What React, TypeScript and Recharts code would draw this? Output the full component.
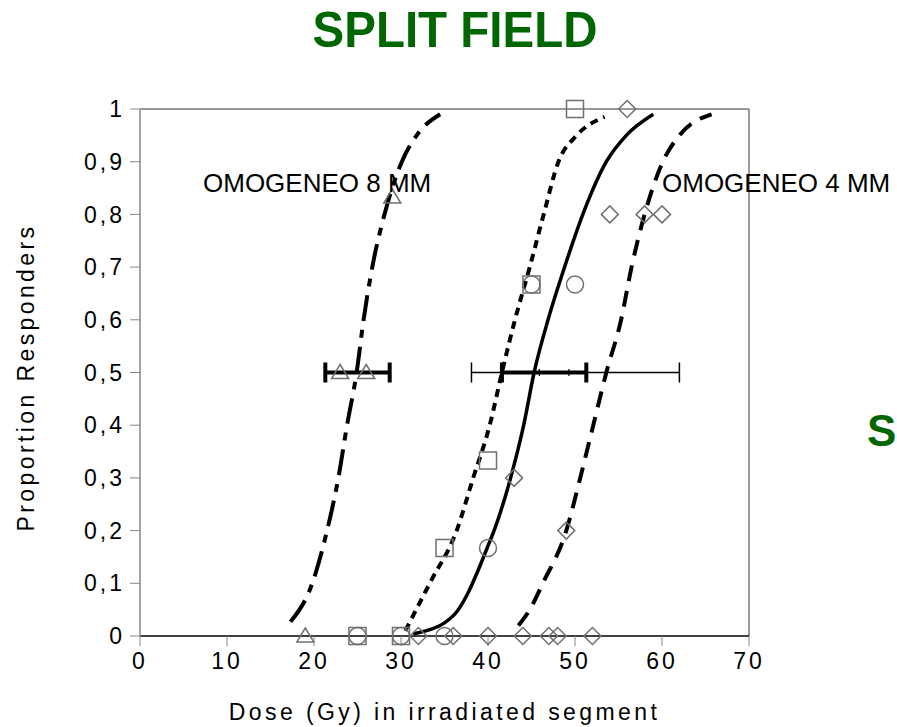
import React from "react";
import {
  ComposedChart,
  Line,
  Scatter,
  XAxis,
  YAxis,
  ErrorBar,
  ReferenceLine,
  Label,
} from "recharts";

// Dose-response curves (x = Gy, y = proportion)
const curve8mm = [
  { x: 17.3, y: 0.027 },
  { x: 19.8, y: 0.1 },
  { x: 21.5, y: 0.2 },
  { x: 22.8, y: 0.3 },
  { x: 23.8, y: 0.4 },
  { x: 24.9, y: 0.5 },
  { x: 25.7, y: 0.6 },
  { x: 26.7, y: 0.7 },
  { x: 28.1, y: 0.8 },
  { x: 30.1, y: 0.9 },
  { x: 31.8, y: 0.95 },
  { x: 34.5, y: 0.99 },
];

const curveDotted = [
  { x: 30.5, y: 0.01 },
  { x: 33.3, y: 0.1 },
  { x: 36.4, y: 0.2 },
  { x: 38.3, y: 0.3 },
  { x: 40.2, y: 0.4 },
  { x: 41.6, y: 0.5 },
  { x: 43.1, y: 0.6 },
  { x: 44.8, y: 0.7 },
  { x: 46.4, y: 0.8 },
  { x: 48.1, y: 0.9 },
  { x: 50.2, y: 0.95 },
  { x: 53.4, y: 0.985 },
];

const curveSolid = [
  { x: 31.4, y: 0.004 },
  { x: 33.3, y: 0.012 },
  { x: 35.0, y: 0.025 },
  { x: 36.5, y: 0.048 },
  { x: 37.8, y: 0.085 },
  { x: 39.0, y: 0.13 },
  { x: 39.9, y: 0.167 },
  { x: 40.7, y: 0.2 },
  { x: 42.6, y: 0.3 },
  { x: 44.1, y: 0.4 },
  { x: 45.3, y: 0.5 },
  { x: 46.9, y: 0.6 },
  { x: 48.8, y: 0.7 },
  { x: 50.9, y: 0.8 },
  { x: 53.6, y: 0.9 },
  { x: 55.9, y: 0.95 },
  { x: 59.0, y: 0.99 },
];

const curve4mm = [
  { x: 43.5, y: 0.02 },
  { x: 44.8, y: 0.05 },
  { x: 46.3, y: 0.1 },
  { x: 49.0, y: 0.2 },
  { x: 50.6, y: 0.3 },
  { x: 52.1, y: 0.4 },
  { x: 53.6, y: 0.5 },
  { x: 55.3, y: 0.6 },
  { x: 56.5, y: 0.7 },
  { x: 58.0, y: 0.8 },
  { x: 60.1, y: 0.9 },
  { x: 62.0, y: 0.95 },
  { x: 65.7, y: 0.99 },
];

// observed points
const triangles = [
  { x: 19, y: 0 },
  { x: 23, y: 0.5 },
  { x: 26, y: 0.5 },
  { x: 29, y: 0.833 },
];
const squares = [
  { x: 25, y: 0 },
  { x: 30, y: 0 },
  { x: 35, y: 0.167 },
  { x: 40, y: 0.333 },
  { x: 45, y: 0.667 },
  { x: 50, y: 1 },
];
const circles = [
  { x: 25, y: 0 },
  { x: 30, y: 0 },
  { x: 35, y: 0 },
  { x: 40, y: 0.167 },
  { x: 45, y: 0.667 },
  { x: 50, y: 0.667 },
];
const diamonds = [
  { x: 32, y: 0 },
  { x: 36, y: 0 },
  { x: 40, y: 0 },
  { x: 44, y: 0 },
  { x: 47, y: 0 },
  { x: 48, y: 0 },
  { x: 52, y: 0 },
  { x: 43, y: 0.3 },
  { x: 49, y: 0.2 },
  { x: 54, y: 0.8 },
  { x: 58, y: 0.8 },
  { x: 60, y: 0.8 },
  { x: 56, y: 1 },
];

// ED50 error bars at y = 0.5, err = [below, above]
const bar8mm = [{ x: 25, y: 0.5, err: [3.7, 3.7] }];
const barThin = [{ x: 45.9, y: 0.5, err: [7.8, 16.1] }];
const barThick = [{ x: 46.45, y: 0.5, err: [4.85, 4.85] }];
const barTicks = [
  { x: 45.9, y: 0.5 },
  { x: 49.3, y: 0.5 },
];

const xTicks = [0, 10, 20, 30, 40, 50, 60, 70];
const yTicks = [0, 0.1, 0.2, 0.3, 0.4, 0.5, 0.6, 0.7, 0.8, 0.9, 1];

const FONT = '"Liberation Sans", Arial, sans-serif';
const GREEN = "#006600";
const MARK = "#707070";

const TICK = { fontSize: 23, letterSpacing: 3, fill: "#000", fontFamily: FONT };

function SquareMark(p: any) {
  return <rect x={p.cx - 8.5} y={p.cy - 8.5} width={17} height={17} fill="none" stroke={MARK} strokeWidth={1.5} />;
}
function CircleMark(p: any) {
  return <circle cx={p.cx} cy={p.cy} r={8.5} fill="none" stroke={MARK} strokeWidth={1.5} />;
}
function DiamondMark(p: any) {
  const { cx, cy } = p;
  return (
    <path
      d={`M${cx},${cy - 8.5}L${cx + 8.5},${cy}L${cx},${cy + 8.5}L${cx - 8.5},${cy}Z`}
      fill="none"
      stroke={MARK}
      strokeWidth={1.5}
    />
  );
}
function TriangleMark(p: any) {
  const { cx, cy } = p;
  return (
    <path
      d={`M${cx},${cy - 8}L${cx + 8.5},${cy + 6}L${cx - 8.5},${cy + 6}Z`}
      fill="none"
      stroke={MARK}
      strokeWidth={1.5}
    />
  );
}
function NoMark() {
  return <g />;
}
function TickMark(p: any) {
  return <line x1={p.cx} x2={p.cx} y1={p.cy - 3.5} y2={p.cy + 3.5} stroke="#000" strokeWidth={1.2} />;
}

export default function App() {
  return (
    <div style={{ position: "absolute", left: 0, top: 0, width: 897, height: 727, background: "#fff", fontFamily: FONT }}>
      <svg width={897} height={727} style={{ position: "absolute", left: 0, top: 0 }}>
        <text
          x={0}
          y={0}
          transform="translate(455,47) scale(0.95,1)"
          textAnchor="middle"
          fontSize={50}
          fontWeight="bold"
          fill={GREEN}
          fontFamily={FONT}
        >
          SPLIT FIELD
        </text>
        <text x={867} y={446} fontSize={44} fontWeight="bold" fill={GREEN} fontFamily={FONT}>
          S
        </text>
      </svg>
      <div style={{ position: "absolute", left: 0, top: 0 }}>
        <ComposedChart width={897} height={727} margin={{ top: 109, right: 148, bottom: 0, left: 0 }}>
          <XAxis
            type="number"
            dataKey="x"
            domain={[0, 70]}
            ticks={xTicks}
            height={91}
            axisLine={{ stroke: "#000", strokeWidth: 1.5 }}
            tickLine={{ stroke: "#888" }}
            tickSize={10}
            tickMargin={7}
            tick={TICK}
            allowDataOverflow
          >
            <Label
              content={({ viewBox }: any) => (
                <text
                  x={viewBox.x + viewBox.width / 2}
                  y={viewBox.y + 84}
                  textAnchor="middle"
                  fontSize={23}
                  letterSpacing={3.4}
                  fontFamily={FONT}
                  fill="#000"
                >
                  Dose (Gy) in irradiated segment
                </text>
              )}
            />
          </XAxis>
          <YAxis
            type="number"
            dataKey="y"
            domain={[0, 1]}
            ticks={yTicks}
            width={140}
            axisLine={{ stroke: "#888", strokeWidth: 1.5 }}
            tickLine={{ stroke: "#888" }}
            tickSize={10}
            tickMargin={5}
            tick={TICK}
            tickFormatter={(v: number) => String(Math.round(v * 10) / 10).replace(".", ",")}
          >
            <Label
              content={({ viewBox }: any) => {
                const cy = viewBox.y + viewBox.height / 2 + 5;
                return (
                  <text
                    x={34}
                    y={cy}
                    transform={`rotate(-90, 34, ${cy})`}
                    textAnchor="middle"
                    fontSize={23}
                    letterSpacing={3.4}
                    fontFamily={FONT}
                    fill="#000"
                  >
                    Proportion Responders
                  </text>
                );
              }}
            />
          </YAxis>

          <ReferenceLine y={1} stroke="#777" strokeWidth={1.5} />
          <ReferenceLine x={70} stroke="#777" strokeWidth={1.5} />

          <Scatter data={triangles} dataKey="y" shape={TriangleMark} isAnimationActive={false} />
          <Scatter data={squares} dataKey="y" shape={SquareMark} isAnimationActive={false} />
          <Scatter data={circles} dataKey="y" shape={CircleMark} isAnimationActive={false} />
          <Scatter data={diamonds} dataKey="y" shape={DiamondMark} isAnimationActive={false} />

          <Scatter data={barThin} dataKey="y" shape={NoMark} isAnimationActive={false}>
            <ErrorBar dataKey="err" direction="x" width={10} stroke="#000" strokeWidth={1.5} />
          </Scatter>
          <Scatter data={barTicks} dataKey="y" shape={TickMark} isAnimationActive={false} />
          <Scatter data={barThick} dataKey="y" shape={NoMark} isAnimationActive={false}>
            <ErrorBar dataKey="err" direction="x" width={10} stroke="#000" strokeWidth={4} />
          </Scatter>
          <Scatter data={bar8mm} dataKey="y" shape={NoMark} isAnimationActive={false}>
            <ErrorBar dataKey="err" direction="x" width={10} stroke="#000" strokeWidth={4} />
          </Scatter>

          <Line data={curve8mm} dataKey="y" type="monotoneX" stroke="#000" strokeWidth={4} strokeDasharray="26 9 8 9" dot={false} isAnimationActive={false} />
          <Line data={curveDotted} dataKey="y" type="monotoneX" stroke="#000" strokeWidth={4} strokeDasharray="8 6" dot={false} isAnimationActive={false} />
          <Line data={curveSolid} dataKey="y" type="monotoneX" stroke="#000" strokeWidth={3.5} dot={false} isAnimationActive={false} />
          <Line data={curve4mm} dataKey="y" type="monotoneX" stroke="#000" strokeWidth={4} strokeDasharray="16 10" dot={false} isAnimationActive={false} />
        </ComposedChart>
      </div>
      <svg width={897} height={727} style={{ position: "absolute", left: 0, top: 0, pointerEvents: "none" }}>
        <text x={203} y={192} fontSize={26} fill="#000" fontFamily={FONT}>
          OMOGENEO 8 MM
        </text>
        <text x={662} y={192} fontSize={26} fill="#000" fontFamily={FONT}>
          OMOGENEO 4 MM
        </text>
      </svg>
    </div>
  );
}
